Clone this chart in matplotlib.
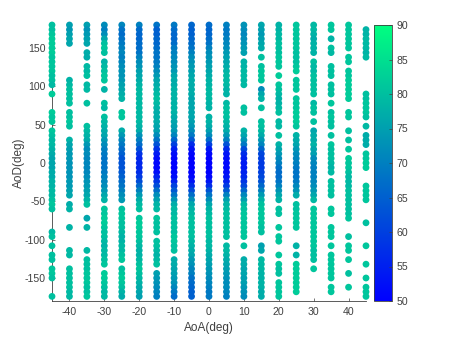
import numpy as np
import matplotlib
matplotlib.use('Agg')
import matplotlib.pyplot as plt

N = float('nan')
aoa_values = [-45, -40, -35, -30, -25, -20, -15, -10, -5, 0, 5, 10, 15, 20, 25, 30, 35, 40, 45]
aod_values = list(range(180, -180, -6))
x_ticks = [-40, -30, -20, -10, 0, 10, 20, 30, 40]
y_ticks = [-150, -100, -50, 0, 50, 100, 150]
cbar_ticks = [50, 55, 60, 65, 70, 75, 80, 85, 90]

col_m45 = [80,80,81,82,82,82,82,81,81,81, 81,80,80,79,N,82,N,N,N,82, 81,81,N,81,80,79,79,78,77,76, 76,76,77,77,78,78,79,79,80,81, 80,N,N,N,N,79,80,N,80,N, 80,80,N,81,81,80,N,N,N,80]
col_m40 = [75,74,75,76,76,N,N,N,N,N, N,N,78,79,80,80,80,80,N,80, 80,81,80,N,N,78,76,75,74,74, 73,73,73,73,74,74,75,76,N,77, 78,N,N,N,78,N,N,N,N,79, 79,N,N,80,80,80,80,80,79,79]
col_m35 = [75,73,74,75,76,N,77,77,N,79, 79,80,N,79,79,N,N,80,N,N, N,N,80,79,78,77,74,72,72,71, 71,71,71,72,73,74,75,76,78,80, N,N,76,N,78,N,N,N,N,79, N,80,80,80,81,81,81,80,80,81]
col_m30 = [72,70,72,76,80,81,80,N,78,79, 80,81,81,N,78,N,N,80,79,N, 80,79,78,77,76,74,72,70,69,68, 68,68,69,70,71,72,74,76,78,N, 81,81,82,82,81,80,80,79,78,79, 79,80,81,N,82,82,81,80,79,79]
col_m25 = [71,68,67,68,69,70,71,70,71,72, 73,73,74,75,76,77,78,N,N,81, 81,N,N,77,74,71,69,67,65,63, 63,63,64,65,67,68,70,72,74,N, 80,81,81,80,80,79,78,78,79,79, 80,81,N,80,81,82,81,80,78,77]
col_m20 = [70,67,66,66,67,67,68,70,72,73, 75,76,77,78,79,79,79,79,79,79, 79,79,78,77,73,70,67,63,58,56, 56,56,57,59,62,66,70,74,77,79, 80,N,81,82,82,81,81,80,79,78, 78,79,80,81,80,79,78,77,76,75]
col_m15 = [68,65,65,66,66,67,68,68,69,70, 72,74,76,77,78,79,80,79,78,77, 77,77,76,75,72,68,63,58,54,52, 51,51,52,55,58,62,67,72,75,78, 79,N,81,80,80,80,N,80,80,79, 78,79,80,N,75,74,73,72,71,70]
col_m10 = [69,67,66,66,67,69,70,71,72,73, 74,76,77,77,78,78,78,78,78,78, 77,76,75,74,71,66,60,55,52,51, 50,50,51,52,55,60,64,68,73,77, 79,79,80,80,80,80,81,81,80,80, N,77,77,76,75,74,73,71,69,67]
col_m05 = [66,65,65,66,67,68,70,72,73,74, 75,76,77,77,77,77,76,76,76,76, 76,75,74,72,69,64,57,53,51,50, 50,50,50,51,53,57,62,67,72,76, 78,79,80,80,80,80,80,79,78,77, 76,74,73,71,70,68,67,66,65,65]
col_000 = [67,66,66,67,68,70,72,73,74,75, 76,77,78,78,79,79,79,78,78,N, 78,78,77,75,72,67,60,54,51,50, 50,50,50,51,53,57,63,68,72,76, 78,79,80,80,80,80,80,79,79,78, 77,76,75,74,73,72,71,70,69,69]
col_p05 = [70,69,69,70,71,72,74,75,76,77, 78,79,79,79,78,78,N,79,80,80, 80,79,78,77,74,70,63,57,53,52, 51,51,52,53,55,59,64,70,75,78, 79,80,80,80,80,80,80,N,79,79, 78,77,76,75,74,73,72,72,71,70]
col_p10 = [73,72,71,72,73,74,75,N,78,78, 79,79,79,79,N,N,N,N,80,80, N,N,N,78,76,73,69,62,57,55, 54,54,55,56,58,61,66,71,75,79, 80,81,81,81,81,81,81,N,80,N, N,77,77,76,76,75,75,74,73,72]
col_p15 = [76,75,74,75,76,77,N,80,N,80, 81,81,81,N,72,76,78,N,80,N, N,80,80,79,77,74,71,66,61,60, 59,59,60,61,63,66,70,74,78,80, 81,81,81,81,80,80,N,N,75,76, N,79,79,79,78,78,78,78,77,77]
col_p20 = [78,78,79,79,80,80,80,81,81,81, N,82,N,81,80,79,78,78,79,80, N,79,79,N,80,N,78,76,74,72, 70,68,67,67,68,70,73,76,78,N, 80,80,N,N,81,N,81,81,N,N, 81,N,81,80,80,N,81,81,81,81]
col_p25 = [81,81,81,81,81,81,80,80,80,81, 82,N,81,81,81,N,81,81,81,82, 82,82,81,N,78,77,76,74,72,71, 70,69,68,68,69,71,73,77,N,80, 80,81,81,81,81,N,N,N,78,N, 78,N,82,82,82,82,82,82,82,N]
col_p30 = [79,79,78,77,78,78,78,N,80,79, 79,80,80,80,80,80,N,79,80,80, N,80,N,76,77,77,78,76,75,72, 71,70,70,70,71,72,74,76,79,N, 81,81,81,81,81,81,81,81,81,80, 80,80,N,81,N,N,N,N,N,N]
col_p35 = [81,81,N,78,N,80,79,N,N,80, 80,80,N,80,80,80,N,81,N,80, 81,80,80,N,80,N,81,80,80,80, 79,78,79,N,80,80,80,80,N,N, 81,81,N,N,81,81,81,N,81,N, 81,81,81,81,81,81,N,81,81,N]
col_p40 = [81,81,81,81,81,81,N,81,81,N, 81,81,82,82,82,82,82,N,N,81, 81,N,N,80,N,80,N,81,N,82, 81,81,80,79,79,79,80,80,80,80, 80,80,81,N,N,N,80,N,81,81, N,81,N,N,80,N,N,81,N,N]
col_p45 = [N,78,78,79,79,79,78,79,N,N, N,N,N,N,N,80,80,81,81,81, 80,N,79,N,77,77,77,N,81,81, 82,82,N,N,N,81,81,81,81,N, N,N,N,80,N,N,N,N,81,N, N,N,81,N,N,81,N,81,81,81]

columns = [col_m45, col_m40, col_m35, col_m30, col_m25, col_m20, col_m15, col_m10, col_m05, col_000,
           col_p05, col_p10, col_p15, col_p20, col_p25, col_p30, col_p35, col_p40, col_p45]

plt.rcParams['font.family'] = ['Liberation Sans', 'DejaVu Sans']
W, H = 452, 339
fig = plt.figure(figsize=(W / 100, H / 100), dpi=100)
ax = fig.add_axes([52 / W, 1 - 301 / H, (366 - 52) / W, (301 - 25) / H])
dark = '#404040'

X, Y, C = [], [], []
for a, col in zip(aoa_values, columns):
    for d, v in zip(aod_values, col):
        if v == v:
            X.append(a); Y.append(d); C.append(v)

sc = ax.scatter(X, Y, c=C, s=24, cmap='winter', vmin=50, vmax=90, linewidths=0, clip_on=False, zorder=3)
ax.set_xlim(-45, 45)
ax.set_ylim(-180, 180)
ax.set_xticks(x_ticks)
ax.set_yticks(y_ticks)
ax.set_xticklabels([str(t) for t in x_ticks])
ax.set_yticklabels([str(t) for t in y_ticks])
ax.spines['top'].set_visible(False)
ax.spines['right'].set_visible(False)
for s in ('left', 'bottom'):
    ax.spines[s].set_color(dark)
    ax.spines[s].set_linewidth(0.6)
ax.tick_params(direction='in', length=2.2, width=0.5, color=dark, labelcolor=dark, labelsize=7.6, pad=4.5)
ax.set_xlabel('AoA(deg)', fontsize=8.5, color=dark, labelpad=3.5)
ax.set_ylabel('AoD(deg)', fontsize=8.5, color=dark, labelpad=0)

cax = fig.add_axes([374.5 / W, 1 - 301 / H, (392 - 374.5) / W, (301 - 25) / H])
cb = fig.colorbar(sc, cax=cax)
cb.set_ticks(cbar_ticks)
cb.set_ticklabels([str(t) for t in cbar_ticks])
cb.outline.set_edgecolor(dark)
cb.outline.set_linewidth(0.6)
cax.tick_params(direction='in', length=2.2, width=0.5, color=dark, labelcolor=dark, labelsize=7.6, pad=3)

fig.savefig('out.png', dpi=100)
